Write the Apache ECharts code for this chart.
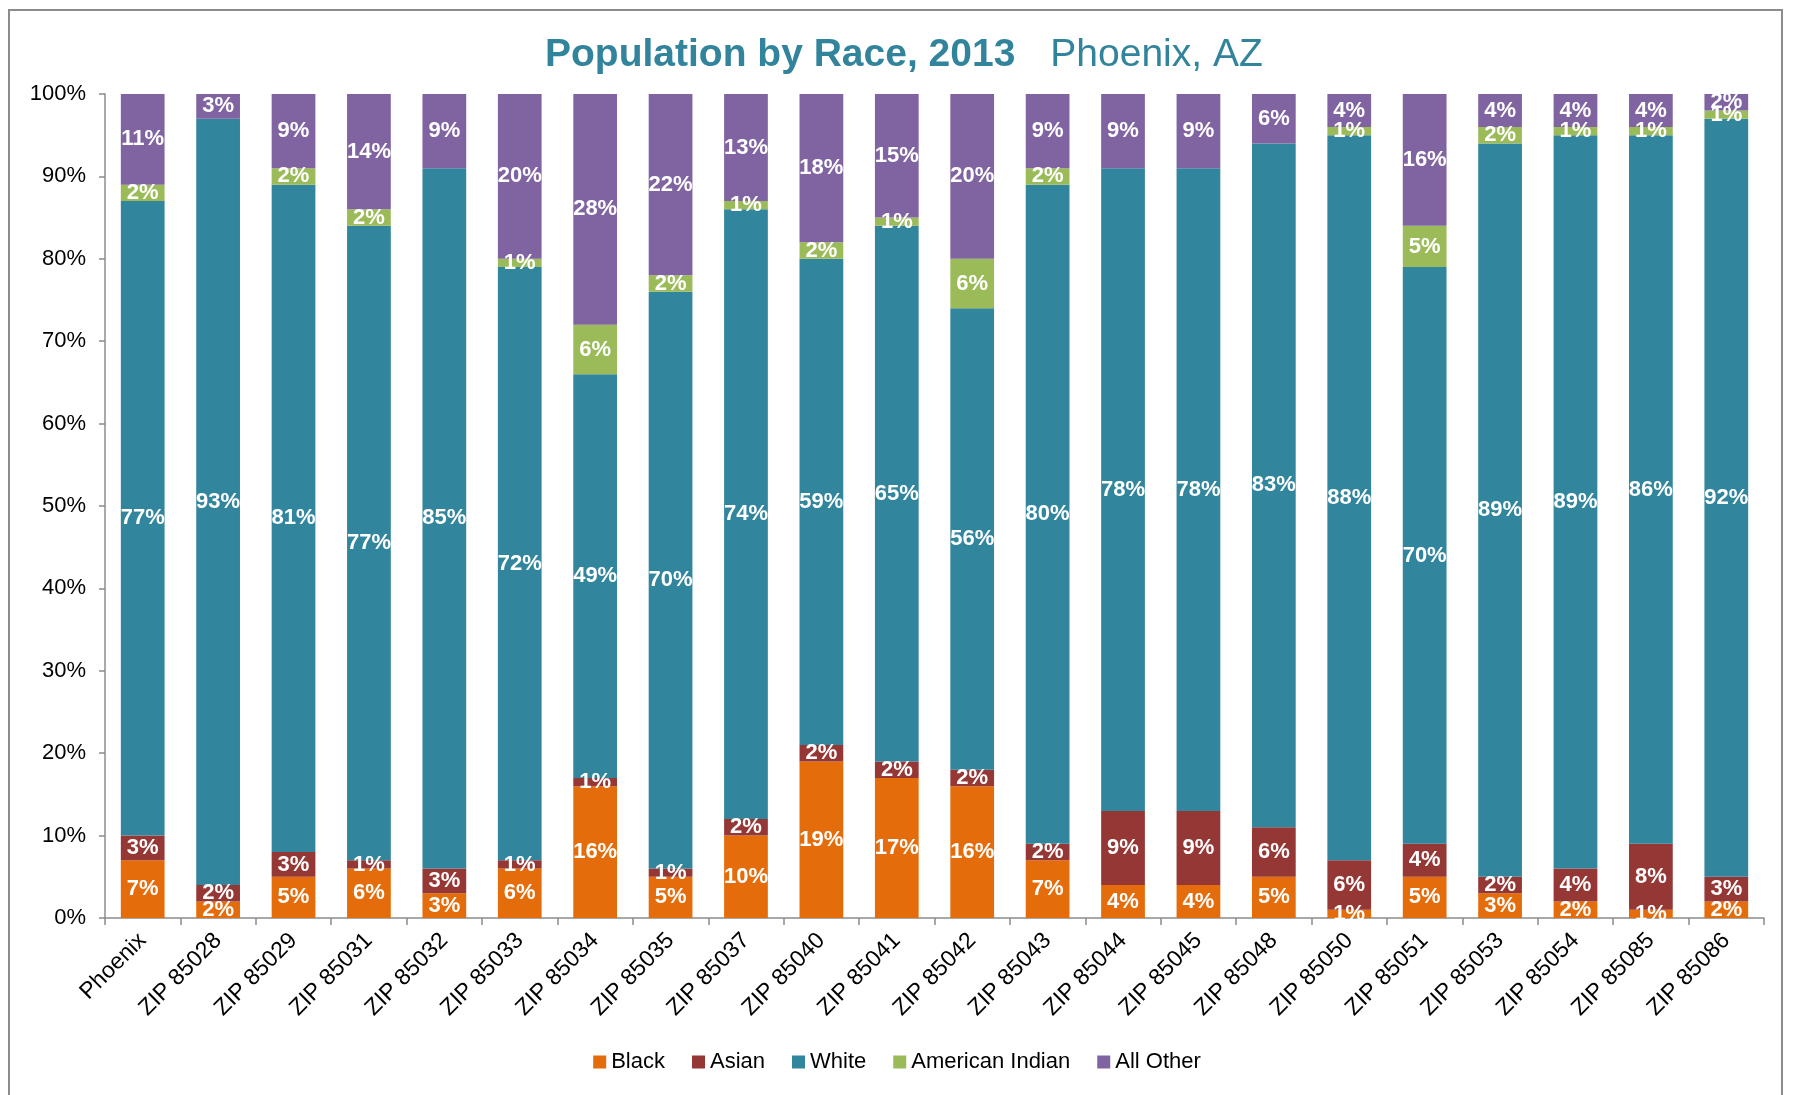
<!DOCTYPE html>
<html><head><meta charset="utf-8">
<script src="https://cdn.jsdelivr.net/npm/echarts@6/dist/echarts.min.js"></script>
<style>
html,body{margin:0;padding:0;background:#fff;}
#frame{position:absolute;left:8px;top:9px;width:1775px;height:1100px;border:2px solid #8c8c8c;box-sizing:border-box;}
#c{position:absolute;left:0;top:0;width:1794px;height:1095px;}
</style></head>
<body>
<div id="frame"></div>
<div id="c"></div>
<script>
const categories = ['Phoenix','ZIP 85028','ZIP 85029','ZIP 85031','ZIP 85032','ZIP 85033','ZIP 85034','ZIP 85035','ZIP 85037','ZIP 85040','ZIP 85041','ZIP 85042','ZIP 85043','ZIP 85044','ZIP 85045','ZIP 85048','ZIP 85050','ZIP 85051','ZIP 85053','ZIP 85054','ZIP 85085','ZIP 85086'];
const black    = [7, 2, 5, 6, 3, 6, 16, 5, 10, 19, 17, 16, 7, 4, 4, 5, 1, 5, 3, 2, 1, 2];
const asian    = [3, 2, 3, 1, 3, 1, 1, 1, 2, 2, 2, 2, 2, 9, 9, 6, 6, 4, 2, 4, 8, 3];
const white    = [77, 93, 81, 77, 85, 72, 49, 70, 74, 59, 65, 56, 80, 78, 78, 83, 88, 70, 89, 89, 86, 92];
const amIndian = [2, 0, 2, 2, 0, 1, 6, 2, 1, 2, 1, 6, 2, 0, 0, 0, 1, 5, 2, 1, 1, 1];
const allOther = [11, 3, 9, 14, 9, 20, 28, 22, 13, 18, 15, 20, 9, 9, 9, 6, 4, 16, 4, 4, 4, 2];
const yTicks = [0, 10, 20, 30, 40, 50, 60, 70, 80, 90, 100];

const seriesDefs = [
  {name:'Black', data:black, color:'#E46C0A'},
  {name:'Asian', data:asian, color:'#953735'},
  {name:'White', data:white, color:'#31859C'},
  {name:'American Indian', data:amIndian, color:'#9BBB59'},
  {name:'All Other', data:allOther, color:'#8064A2'}
];
const FONT = 'Arial, "Liberation Sans", sans-serif';

const chart = echarts.init(document.getElementById('c'), null, {renderer:'canvas'});
chart.setOption({
  animation:false,
  backgroundColor:'transparent',
  title:{
    left:540, top:31,
    text:'{a|Population by Race, 2013}{b|Phoenix, AZ}',
    textStyle:{
      rich:{
        a:{fontFamily:FONT, fontWeight:'bold', fontSize:39, color:'#31849B', padding:[0,35,0,0]},
        b:{fontFamily:FONT, fontWeight:'normal', fontSize:39, color:'#31849B'}
      }
    }
  },
  legend:{
    bottom:17, left:'center',
    itemWidth:13, itemHeight:13, itemGap:27,
    icon:'rect',
    textStyle:{fontFamily:FONT, fontSize:22, color:'#000'},
    data:seriesDefs.map(s=>s.name)
  },
  grid:{left:105, right:30, top:94, bottom:177, containLabel:false},
  xAxis:{
    type:'category', data:categories,
    axisLine:{lineStyle:{color:'#8c8c8c', width:1.5}},
    axisTick:{show:true, alignWithLabel:false, length:7, lineStyle:{color:'#8c8c8c', width:1.5}},
    axisLabel:{interval:0, rotate:45, fontFamily:FONT, fontSize:23, color:'#000', margin:19}
  },
  yAxis:{
    type:'value', min:yTicks[0], max:yTicks[yTicks.length-1], interval:10,
    axisLine:{show:true, lineStyle:{color:'#8c8c8c', width:1.5}},
    axisTick:{show:true, length:6, lineStyle:{color:'#8c8c8c', width:1.5}},
    splitLine:{show:false},
    axisLabel:{formatter:'{value}%', fontFamily:FONT, fontSize:22, color:'#000', margin:19}
  },
  series:seriesDefs.map(s=>({
    name:s.name, type:'bar', stack:'total', data:s.data,
    barWidth:'58%',
    itemStyle:{color:s.color},
    label:{
      show:true, position:'inside',
      formatter:p=>p.value>0?p.value+'%':'',
      fontFamily:FONT, fontWeight:'bold', fontSize:22, color:'#fff'
    }
  }))
});
</script>
</body></html>
